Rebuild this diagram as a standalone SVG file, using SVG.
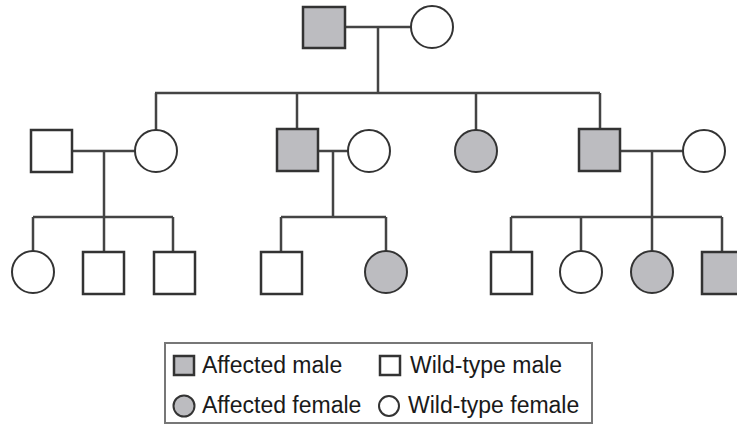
<svg xmlns="http://www.w3.org/2000/svg" width="737" height="425" viewBox="0 0 737 425">
<style>
.sq{fill:#fff;stroke:#333;stroke-width:2.5}
.ci{fill:#fff;stroke:#333;stroke-width:2}
.aff{fill:#bcbcc0}
.ln{fill:none;stroke:#444;stroke-width:2.5}
.lg{font-family:"Liberation Sans",Arial,sans-serif;font-size:23px;fill:#1a1a1a}
</style>
<rect width="737" height="425" fill="#fff"/>
<g id="connectors">
<path class="ln" d="M345 27H411M378 27V93M155 93H600M156 93V130M297 93V129M476 93V130M600 93V129"/>
<path class="ln" d="M72 151H135M104 151V217M33 217H173M33 217V251M104 217V252M173 217V252"/>
<path class="ln" d="M318 151H348M333 151V217M281 217H386M281 217V252M386 217V251"/>
<path class="ln" d="M620 151H683M652 151V217M511 217H722M511 217V252M581 217V251M652 217V251M722 217V252"/>
</g>
<g id="g1m"><rect class="sq aff" x="303" y="7" width="42" height="41"/></g>
<g id="g1f"><circle class="ci" cx="432" cy="27" r="21"/></g>
<g id="g2m1"><rect class="sq" x="31" y="130" width="41" height="42"/></g>
<g id="g2f1"><circle class="ci" cx="156" cy="151" r="21"/></g>
<g id="g2m2"><rect class="sq aff" x="277" y="129" width="41" height="42"/></g>
<g id="g2f2"><circle class="ci" cx="369" cy="151" r="21"/></g>
<g id="g2f3"><circle class="ci aff" cx="476" cy="151" r="21"/></g>
<g id="g2m3"><rect class="sq aff" x="579" y="129" width="41" height="42"/></g>
<g id="g2f4"><circle class="ci" cx="704" cy="151" r="21"/></g>
<g id="g3f1"><circle class="ci" cx="33" cy="272" r="21"/></g>
<g id="g3m1"><rect class="sq" x="83" y="252" width="41" height="42"/></g>
<g id="g3m2"><rect class="sq" x="154" y="252" width="41" height="42"/></g>
<g id="g3m3"><rect class="sq" x="261" y="252" width="41" height="42"/></g>
<g id="g3f2"><circle class="ci aff" cx="386" cy="272" r="21"/></g>
<g id="g3m4"><rect class="sq" x="491" y="252" width="41" height="42"/></g>
<g id="g3f3"><circle class="ci" cx="581" cy="272" r="21"/></g>
<g id="g3f4"><circle class="ci aff" cx="652" cy="272" r="21"/></g>
<g id="g3m5"><rect class="sq aff" x="702" y="252" width="41" height="42"/></g>
<g id="legend">
<rect x="165" y="343" width="427" height="80" fill="#fff" stroke="#777" stroke-width="2"/>
<rect class="sq aff" x="174" y="356" width="20" height="19" stroke-width="2"/>
<text class="lg" x="202" y="373">Affected male</text>
<rect class="sq" x="380" y="356" width="20" height="19" stroke-width="2"/>
<text class="lg" x="410" y="373">Wild-type male</text>
<circle class="ci aff" cx="184" cy="406" r="10.5"/>
<text class="lg" x="202" y="413">Affected female</text>
<circle class="ci" cx="389" cy="406" r="10"/>
<text class="lg" x="408" y="413">Wild-type female</text>
</g>
</svg>
